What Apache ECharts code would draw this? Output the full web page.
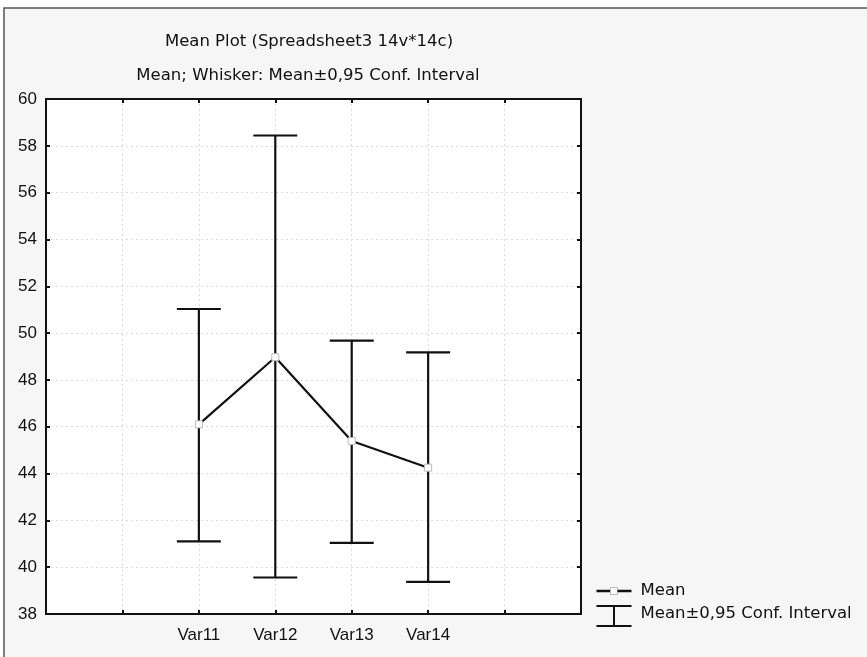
<!DOCTYPE html>
<html><head><meta charset="utf-8">
<script src="https://cdn.jsdelivr.net/npm/echarts@6/dist/echarts.min.js"></script>
<style>html,body{margin:0;padding:0;background:#fff}#c{width:867px;height:657px}</style>
</head><body><div id="c"></div>
<script>
var categories = ['', '', 'Var11', 'Var12', 'Var13', 'Var14', '', ''];
var means = [null, null, 46.10, 48.97, 45.39, 44.25, null, null];
var upper = [null, null, 51.03, 58.44, 49.68, 49.18, null, null];
var lower = [null, null, 41.10, 39.56, 41.04, 39.37, null, null];
var yTicks = [38, 40, 42, 44, 46, 48, 50, 52, 54, 56, 58, 60];
var titleText = 'Mean Plot (Spreadsheet3 14v*14c)';
var subtitleText = 'Mean; Whisker: Mean\u00b10,95 Conf. Interval';
var legendNames = ['Mean', 'Mean\u00b10,95 Conf. Interval'];

var FONT = '"Liberation Sans", Arial, sans-serif';
var WFONT = '"DejaVu Sans", Verdana, sans-serif';
var errData = [];
for (var i = 0; i < categories.length; i++) {
  if (means[i] != null) errData.push([i, lower[i], upper[i]]);
}
var chart = echarts.init(document.getElementById('c'), null, {renderer: 'canvas'});
var gridPos = {left: 46, right: 286, top: 99, bottom: 43};
var tickSel = function (i) { return i > 0 && i < categories.length - 1; };
var option = {
  backgroundColor: '#ffffff',
  animation: false,
  title: [
    {text: titleText, left: 304, top: 28, textAlign: 'center',
     textStyle: {fontFamily: WFONT, fontSize: 16.5, fontWeight: 'normal', color: '#111'}},
    {text: subtitleText, left: 303, top: 62, textAlign: 'center',
     textStyle: {fontFamily: WFONT, fontSize: 16.5, fontWeight: 'normal', color: '#111'}}
  ],
  graphic: [
    {type: 'rect', z: -10, silent: true, shape: {x: 4, y: 8, width: 900, height: 700},
     style: {fill: '#f6f6f6', stroke: '#555', lineWidth: 1.5}},
    {type: 'rect', z: -9, silent: true, shape: {x: gridPos.left, y: gridPos.top, width: 867 - gridPos.left - gridPos.right, height: 657 - gridPos.top - gridPos.bottom},
     style: {fill: '#ffffff'}},
    // legend
    {type: 'group', left: 594, top: 582, children: [
      {type: 'line', shape: {x1: 0, y1: 7, x2: 14, y2: 7}, style: {stroke: '#111', lineWidth: 2.5}},
      {type: 'rect', shape: {x: 14, y: 3.5, width: 7, height: 7}, style: {fill: '#fff', stroke: '#bbb', lineWidth: 1}},
      {type: 'line', shape: {x1: 21, y1: 7, x2: 35, y2: 7}, style: {stroke: '#111', lineWidth: 2.5}},
      {type: 'text', x: 44, y: -2, style: {text: legendNames[0], font: '16.5px ' + WFONT, fill: '#111'}},
      {type: 'line', shape: {x1: 0, y1: 22, x2: 35, y2: 22}, style: {stroke: '#111', lineWidth: 2}},
      {type: 'line', shape: {x1: 17.5, y1: 22, x2: 17.5, y2: 42}, style: {stroke: '#111', lineWidth: 2}},
      {type: 'line', shape: {x1: 0, y1: 42, x2: 35, y2: 42}, style: {stroke: '#111', lineWidth: 2}},
      {type: 'text', x: 44, y: 21, style: {text: legendNames[1], font: '16.5px ' + WFONT, fill: '#111'}}
    ]}
  ],
  grid: {left: gridPos.left, right: gridPos.right, top: gridPos.top, bottom: gridPos.bottom,
         show: true, borderColor: '#111', borderWidth: 2, backgroundColor: 'transparent'},
  xAxis: [
    {type: 'category', data: categories, boundaryGap: false, position: 'bottom',
     axisLine: {show: true, lineStyle: {color: '#111', width: 2}},
     axisTick: {show: true, inside: true, length: 4, interval: tickSel, lineStyle: {color: '#111', width: 2}},
     axisLabel: {fontFamily: FONT, fontSize: 17, color: '#111', margin: 13, interval: 0},
     splitLine: {show: true, interval: tickSel, lineStyle: {color: '#dcdcdc', type: [2, 3], width: 1}}},
    {type: 'category', data: categories, boundaryGap: false, position: 'top',
     axisLine: {show: true, lineStyle: {color: '#111', width: 2}},
     axisTick: {show: true, inside: true, length: 4, interval: tickSel, lineStyle: {color: '#111', width: 2}},
     axisLabel: {show: false}, splitLine: {show: false}}
  ],
  yAxis: [
    {type: 'value', min: yTicks[0], max: yTicks[yTicks.length - 1], interval: 2, position: 'left',
     axisLine: {show: true, lineStyle: {color: '#111', width: 2}},
     axisTick: {show: true, inside: true, length: 4, lineStyle: {color: '#111', width: 2}},
     axisLabel: {fontFamily: FONT, fontSize: 17, color: '#111', margin: 9},
     splitLine: {show: true, lineStyle: {color: '#dcdcdc', type: [2, 3], width: 1}}},
    {type: 'value', min: yTicks[0], max: yTicks[yTicks.length - 1], interval: 2, position: 'right',
     axisLine: {show: true, lineStyle: {color: '#111', width: 2}},
     axisTick: {show: true, inside: true, length: 4, lineStyle: {color: '#111', width: 2}},
     axisLabel: {show: false}, splitLine: {show: false}}
  ],
  series: [
    {type: 'custom', name: legendNames[1], data: errData, z: 2,
     renderItem: function (params, api) {
       var x = api.value(0);
       var lo = api.coord([x, api.value(1)]);
       var hi = api.coord([x, api.value(2)]);
       var hw = 22;
       var st = {stroke: '#111', lineWidth: 2.2};
       return {type: 'group', children: [
         {type: 'line', shape: {x1: lo[0], y1: lo[1], x2: hi[0], y2: hi[1]}, style: st},
         {type: 'line', shape: {x1: hi[0] - hw, y1: hi[1], x2: hi[0] + hw, y2: hi[1]}, style: st},
         {type: 'line', shape: {x1: lo[0] - hw, y1: lo[1], x2: lo[0] + hw, y2: lo[1]}, style: st}
       ]};
     }},
    {type: 'line', name: legendNames[0], data: means, z: 3, connectNulls: false,
     symbol: 'rect', symbolSize: 7, showAllSymbol: true,
     lineStyle: {color: '#111', width: 2.2},
     itemStyle: {color: '#ffffff', borderColor: '#bbbbbb', borderWidth: 1}}
  ]
};
chart.setOption(option);
</script>
</body></html>
